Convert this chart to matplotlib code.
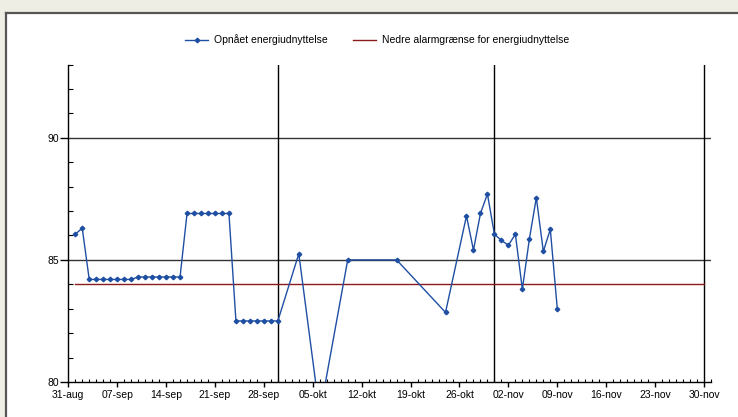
import matplotlib
matplotlib.use("Agg")
import matplotlib.pyplot as plt
import matplotlib.dates as mdates
from matplotlib.lines import Line2D
from matplotlib.patches import Rectangle
import pandas as pd

# measured energy utilisation (daily readings)
dates = [
    "2015-09-01", "2015-09-02",
    "2015-09-03", "2015-09-04", "2015-09-05", "2015-09-06", "2015-09-07", "2015-09-08", "2015-09-09",
    "2015-09-10", "2015-09-11", "2015-09-12", "2015-09-13", "2015-09-14", "2015-09-15", "2015-09-16",
    "2015-09-17", "2015-09-18", "2015-09-19", "2015-09-20", "2015-09-21", "2015-09-22", "2015-09-23",
    "2015-09-24", "2015-09-25", "2015-09-26", "2015-09-27", "2015-09-28", "2015-09-29", "2015-09-30",
    "2015-10-03", "2015-10-06", "2015-10-10", "2015-10-17", "2015-10-24",
    "2015-10-27", "2015-10-28", "2015-10-29", "2015-10-30", "2015-10-31",
    "2015-11-01", "2015-11-02", "2015-11-03", "2015-11-04", "2015-11-05",
    "2015-11-06", "2015-11-07", "2015-11-08", "2015-11-09",
]
values = [
    86.05, 86.3,
    84.2, 84.2, 84.2, 84.2, 84.2, 84.2, 84.2,
    84.3, 84.3, 84.3, 84.3, 84.3, 84.3, 84.3,
    86.9, 86.9, 86.9, 86.9, 86.9, 86.9, 86.9,
    82.5, 82.5, 82.5, 82.5, 82.5, 82.5, 82.5,
    85.25, 78.7, 85.0, 85.0, 82.85,
    86.8, 85.4, 86.9, 87.7, 86.05,
    85.8, 85.6, 86.05, 83.8, 85.85,
    87.55, 85.35, 86.25, 83.0,
]

# lower alarm limit
alarm_dates = ["2015-09-01", "2015-11-30"]
alarm_values = [84, 84]

month_names = {8: "aug", 9: "sep", 10: "okt", 11: "nov", 12: "dec"}
series_label = "Opnået energiudnyttelse"
alarm_label = "Nedre alarmgrænse for energiudnyttelse"

plt.rcParams['font.family'] = ['Liberation Sans', 'DejaVu Sans']

fig = plt.figure(figsize=(7.38, 4.17), dpi=100)
ax = fig.add_axes([0.0925, 0.0839, 0.9634 - 0.0925, 0.8453 - 0.0839])

# screenshot frame around the panel
fig.patches.append(Rectangle((0, 1 - 12 / 417), 1, 12 / 417, transform=fig.transFigure,
                             facecolor="#efeee4", edgecolor="none"))
fig.patches.append(Rectangle((0, 0), 5 / 738, 1, transform=fig.transFigure,
                             facecolor="#efeee4", edgecolor="none"))
fig.lines.append(Line2D([6.5 / 738, 6.5 / 738], [0, 1 - 13 / 417], transform=fig.transFigure,
                        color="#555555", lw=1.6))
fig.lines.append(Line2D([6.5 / 738, 1], [1 - 13 / 417, 1 - 13 / 417], transform=fig.transFigure,
                        color="#555555", lw=1.6))

x = pd.to_datetime(dates)
xa = pd.to_datetime(alarm_dates)

# horizontal grid at major y ticks, vertical lines at month ends
for yv in [85, 90]:
    ax.axhline(yv, color="#333333", lw=1.0, zorder=1)
for me in pd.date_range("2015-09-01", "2015-12-01", freq="ME"):
    ax.axvline(me, color="black", lw=1.0, zorder=1)

l2, = ax.plot(xa, alarm_values, color="#8b1a1a", lw=1.0, zorder=2, label=alarm_label)
l1, = ax.plot(x, values, color="#1f4fa3", lw=1.0, marker="D", markersize=2.3, zorder=3,
              label=series_label)

ax.set_xlim(pd.Timestamp("2015-08-31"), pd.Timestamp("2015-12-01"))
ax.set_ylim(80, 93)

ax.xaxis.set_major_locator(mdates.WeekdayLocator(byweekday=mdates.MO))
ax.xaxis.set_minor_locator(mdates.DayLocator())
ax.xaxis.set_major_formatter(plt.FuncFormatter(
    lambda v, p: "{:02d}-{}".format(mdates.num2date(v).day, month_names[mdates.num2date(v).month])))
ax.set_yticks([80, 85, 90])
ax.set_yticks(range(80, 94), minor=True)

ax.tick_params(axis="x", which="major", direction="out", length=3.6, width=1, labelsize=7.5, pad=2)
ax.tick_params(axis="x", which="minor", direction="in", length=2.2, width=0.8)
ax.tick_params(axis="y", which="major", direction="out", length=5.8, width=1, labelsize=7.5, pad=1)
ax.tick_params(axis="y", which="minor", direction="in", length=3.6, width=0.8)

for s in ["top", "right"]:
    ax.spines[s].set_visible(False)
for s in ["left", "bottom"]:
    ax.spines[s].set_linewidth(1.0)

fig.legend([l1, l2], [series_label, alarm_label], loc="center", bbox_to_anchor=(0.511, 0.904),
           ncol=2, frameon=False, fontsize=7.5, handlelength=2.2, columnspacing=2.5, handletextpad=0.5)

fig.savefig("out.png", dpi=100)
